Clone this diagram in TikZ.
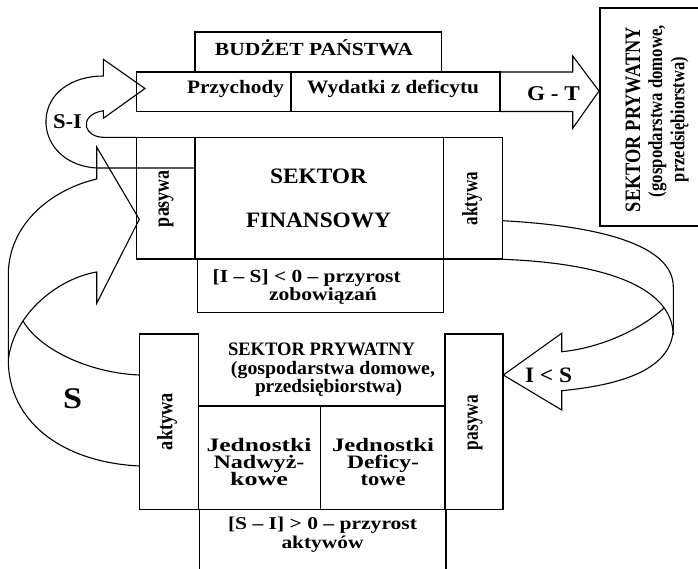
\documentclass[tikz,border=0pt]{standalone}
\usepackage{fontspec}
\setmainfont{Liberation Serif}
\usepackage{graphicx}
\newcommand{\tw}[3]{\resizebox{#1pt}{\height}{\fontsize{#2pt}{#2pt}\selectfont\bfseries #3}}
\newcommand{\sw}[3]{\smash{\tw{#1}{#2}{#3}}}
\begin{document}
\begin{tikzpicture}[x=1pt,y=-1pt,line width=1.1pt,line join=miter,
  txt/.style={inner sep=0pt,anchor=base},
  rtxt/.style={inner sep=0pt,rotate=90},
  stack/.style={inner sep=0pt,anchor=north,align=center,
    font=\fontsize{19pt}{17.3pt}\selectfont}]
\useasboundingbox (0,0) rectangle (698,568);
% budzet
\draw (195,32) rectangle (441.7,72);
\draw (136.7,72) rectangle (500,111.5);
\draw (291,72) -- (291,111.5);
% G-T arrow
\draw (500,72) -- (572.7,72) -- (572.7,56) -- (599,91) -- (572.7,128.3) -- (572.7,111.5) -- (500,111.5);
% right box
\draw (698,8) -- (600,8) -- (600,226) -- (698,226);
% sektor finansowy
\draw (136.7,137.3) rectangle (502.7,259);
\draw (195,137.3) -- (195,259);
\draw (443.3,137.3) -- (443.3,259);
\draw (197.3,259) rectangle (443.3,312.7);
% S-I arrow
\draw (195,168) -- (97,168) .. controls (62,166) and (45,142) .. (46,120)
  .. controls (47,93) and (72,76) .. (103.3,76) -- (103.3,59.3) -- (145,88.5)
  -- (103.3,118.3) -- (103.3,110.7) .. controls (90,113) and (85,120) .. (86.5,127)
  .. controls (88,133) and (95,137.3) .. (103.3,137.3) -- (136.7,137.3);
% sektor prywatny
\draw (139.3,334) rectangle (198.3,509.3);
\draw (445,334) rectangle (503,509.3);
\draw (198.3,406) -- (445,406);
\draw (320.7,406) -- (320.7,509.3);
\draw (198.3,509.3) -- (445,509.3);
\draw (199.3,509.3) -- (199.3,580);
\draw (446,509.3) -- (446,580);
% S arrow
\draw (139.3,466) .. controls (60,462) and (8.3,420) .. (8.3,360) -- (8.3,275)
  .. controls (8.3,225) and (50,190) .. (96.7,179) -- (96.7,147) -- (139.3,219.3)
  -- (96.7,303.3) -- (96.7,272) .. controls (60,278) and (14,312) .. (8.3,360);
\draw (23,321) .. controls (40,350) and (90,373) .. (139.3,375);
% I<S arrow
\draw (502.7,220.7) .. controls (600,226) and (673.3,245) .. (673.3,287) -- (673.3,327)
  .. controls (673.3,370) and (620,385) .. (561.7,390.7) -- (561.7,410) -- (503.3,375)
  -- (561.7,333.3) -- (561.7,351.7) .. controls (600,348) and (640,330) .. (664,308);
\draw (502.7,259.3) .. controls (600,263) and (672,285) .. (673.3,335);
% texts
\node[txt] (budzet) at (314,55) {\tw{198}{18.5}{BUDŻET PAŃSTWA}};
\node[txt] (przych) at (235.5,93.5) {\tw{97}{19}{Przychody}};
\node[txt] (wydatki) at (393,93.5) {\tw{172}{19}{Wydatki z deficytu}};
\node[txt] (gt) at (553.5,100) {\tw{53}{21}{G - T}};
\node[txt] (si) at (67.5,128.5) {\tw{29}{21}{S-I}};
\node[txt] (sekt1) at (318.5,183.5) {\tw{97}{22}{SEKTOR}};
\node[txt] (fin) at (318.5,227) {\tw{145}{22}{FINANSOWY}};
\node[txt] (is1) at (306.7,282.5) {\tw{188}{18.5}{[I – S] < 0 – przyrost}};
\node[txt] (is2) at (323,300.5) {\tw{108}{18.5}{zobowiązań}};
\node[txt] (sp1) at (321.5,355.5) {\tw{187}{19}{SEKTOR PRYWATNY}};
\node[txt] (sp2) at (333,374) {\tw{204}{19}{(gospodarstwa domowe,}};
\node[txt] (sp3) at (328.5,392.5) {\tw{147}{19}{przedsiębiorstwa)}};
\node[stack] (jn) at (259,450.5) {\sw{105}{19}{Jednostki}\\\sw{91}{19}{Nadwyż-}\\\sw{58}{19}{kowe}};
\node[stack] (jd) at (383,450.5) {\sw{102}{19}{Jednostki}\\\sw{72}{19}{Deficy-}\\\sw{45}{19}{towe}};
\node[txt] (si1) at (322.5,529.5) {\tw{189}{18}{[S – I] > 0 – przyrost}};
\node[txt] (si2) at (322.5,548.5) {\tw{82}{18}{aktywów}};
\node[txt] (ils) at (548.5,382) {\tw{47}{22}{I < S}};
\node[txt] (s) at (72.5,408.5) {\tw{19}{30}{S}};
\node[rtxt] (pas1) at (166,198.5) {\tw{57}{22}{pasywa}};
\node[rtxt] (akt1) at (472,198.5) {\tw{53}{22}{aktywa}};
\node[rtxt] (akt2) at (167,421.5) {\tw{57}{22}{aktywa}};
\node[rtxt] (pas2) at (475,422.5) {\tw{55}{22}{pasywa}};
\node[rtxt] (rs1) at (633,119.5) {\tw{185}{22}{SEKTOR PRYWATNY}};
\node[rtxt] (rs2) at (657.5,111) {\tw{172}{20}{(gospodarstwa domowe,}};
\node[rtxt] (rs3) at (679.5,119.5) {\tw{125}{20}{przedsiębiorstwa)}};
\end{tikzpicture}
\end{document}
